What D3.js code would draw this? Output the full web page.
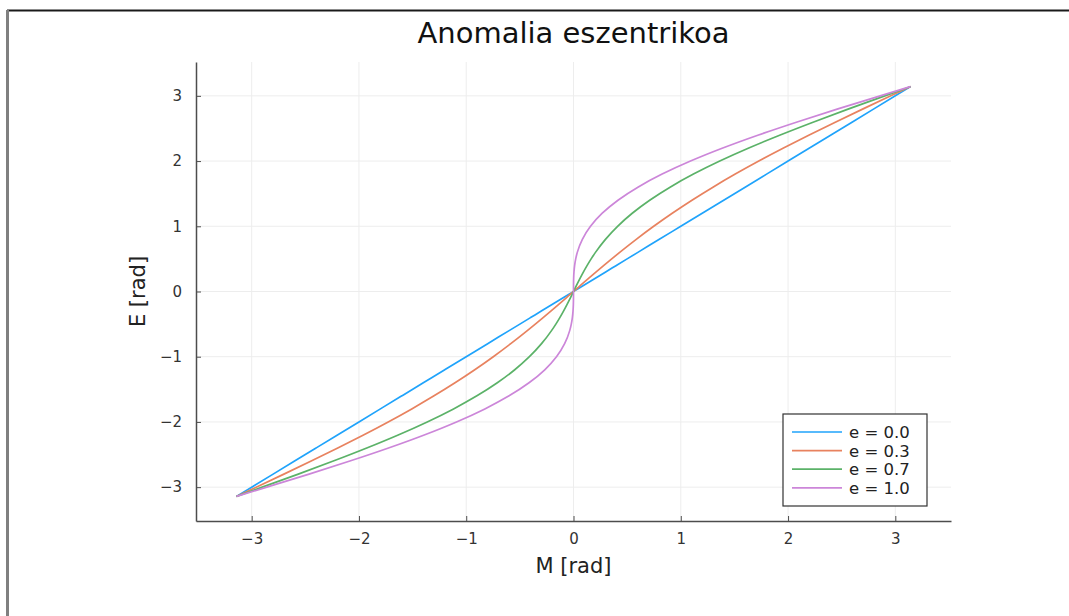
<!DOCTYPE html>
<html>
<head>
<meta charset="utf-8">
<script src="https://cdn.jsdelivr.net/npm/d3@7"></script>
<style>
body{margin:0;background:#fff}
text{font-family:"DejaVu Sans",sans-serif}
</style>
</head>
<body>
<div id="chart"></div>
<script>
(function(){

// eccentric anomaly E (rad), shared by all series
var E_vals = [-3.1416,-3.0,-2.8,-2.6,-2.4,-2.2,-2.0,-1.8,-1.6,-1.4,-1.2,-1.0,-0.8,-0.6,-0.5,-0.4,-0.3,-0.2,-0.1,-0.05,0,
              0.05,0.1,0.2,0.3,0.4,0.5,0.6,0.8,1.0,1.2,1.4,1.6,1.8,2.0,2.2,2.4,2.6,2.8,3.0,3.1416]

// mean anomaly M (rad) for each eccentricity
var M_e00 = [-3.1416,-3.0,-2.8,-2.6,-2.4,-2.2,-2.0,-1.8,-1.6,-1.4,-1.2,-1.0,-0.8,-0.6,-0.5,-0.4,-0.3,-0.2,-0.1,-0.05,0,
             0.05,0.1,0.2,0.3,0.4,0.5,0.6,0.8,1.0,1.2,1.4,1.6,1.8,2.0,2.2,2.4,2.6,2.8,3.0,3.1416]
var M_e03 = [-3.1416,-2.9577,-2.6995,-2.4453,-2.1974,-1.9575,-1.7272,-1.5078,-1.3001,-1.1044,-0.9204,-0.7476,-0.5848,-0.4306,-0.3562,-0.2832,-0.2113,-0.1404,-0.0700,-0.0350,0,
             0.0350,0.0700,0.1404,0.2113,0.2832,0.3562,0.4306,0.5848,0.7476,0.9204,1.1044,1.3001,1.5078,1.7272,1.9575,2.1974,2.4453,2.6995,2.9577,3.1416]
var M_e07 = [-3.1416,-2.9012,-2.5655,-2.2391,-1.9272,-1.6341,-1.3635,-1.1183,-0.9003,-0.7102,-0.5476,-0.4110,-0.2979,-0.2048,-0.1644,-0.1274,-0.0931,-0.0609,-0.0301,-0.0150,0,
             0.0150,0.0301,0.0609,0.0931,0.1274,0.1644,0.2048,0.2979,0.4110,0.5476,0.7102,0.9003,1.1183,1.3635,1.6341,1.9272,2.2391,2.5655,2.9012,3.1416]
var M_e10 = [-3.1416,-2.8589,-2.4650,-2.0845,-1.7245,-1.3915,-1.0907,-0.8262,-0.6004,-0.4146,-0.2680,-0.1585,-0.0826,-0.0354,-0.0206,-0.0106,-0.0045,-0.0013,-0.0002,-0.00002,0,
             0.00002,0.0002,0.0013,0.0045,0.0106,0.0206,0.0354,0.0826,0.1585,0.2680,0.4146,0.6004,0.8262,1.0907,1.3915,1.7245,2.0845,2.4650,2.8589,3.1416]

var series_names = ["e = 0.0","e = 0.3","e = 0.7","e = 1.0"]
var series_M = [M_e00,M_e03,M_e07,M_e10]
var series_colors = ["#1fa3fb","#e8825f","#5bb268","#cc86d9"]

var x_ticks = [-3,-2,-1,0,1,2,3]
var y_ticks = [-3,-2,-1,0,1,2,3]
var x_domain = [-3.519,3.519]
var y_domain = [-3.519,3.519]

var W = 1069, H = 616
var margin = {top: 62, right: 118, bottom: 95, left: 196},
    width = W - margin.left - margin.right,
    height = H - margin.top - margin.bottom

var svg = d3.select("#chart").append("svg")
	.attr("width",W)
	.attr("height",H)

// frame of the screenshot
svg.append("line").attr("x1",7).attr("x2",W).attr("y1",10.5).attr("y2",10.5)
	.style("stroke","#1a1a1a").style("stroke-width",2)
svg.append("line").attr("x1",7.5).attr("x2",7.5).attr("y1",10).attr("y2",H)
	.style("stroke","#808080").style("stroke-width",3)

var plot = svg.append("g")
	.attr("transform","translate("+margin.left+","+margin.top+")")

var x = d3.scaleLinear().domain(x_domain).range([0,width])
var y = d3.scaleLinear().domain(y_domain).range([height,0])

// grid
plot.selectAll(".xgrid").data(x_ticks).enter().append("line")
	.attr("class","xgrid")
	.attr("x1",function(d){return x(d)}).attr("x2",function(d){return x(d)})
	.attr("y1",0).attr("y2",height)
	.style("stroke","#ededed").style("stroke-width",1)
plot.selectAll(".ygrid").data(y_ticks).enter().append("line")
	.attr("class","ygrid")
	.attr("y1",function(d){return y(d)}).attr("y2",function(d){return y(d)})
	.attr("x1",0).attr("x2",width)
	.style("stroke","#ededed").style("stroke-width",1)

// curves
var line = d3.line()
	.x(function(d){return x(d[0])})
	.y(function(d){return y(d[1])})
	.curve(d3.curveMonotoneY)

series_M.forEach(function(M,i){
	var pts = M.map(function(m,j){return [m,E_vals[j]]})
	plot.append("path").datum(pts)
		.attr("d",line)
		.style("fill","none")
		.style("stroke",series_colors[i])
		.style("stroke-width",1.7)
})

// axes
var fmt = function(d){return d<0 ? "\u2212"+Math.abs(d) : ""+d}

var xaxis = plot.append("g")
	.attr("transform","translate(0,"+height+")")
	.call(d3.axisBottom(x).tickValues(x_ticks).tickFormat(fmt).tickSizeInner(-5).tickSizeOuter(0).tickPadding(12))
var yaxis = plot.append("g")
	.call(d3.axisLeft(y).tickValues(y_ticks).tickFormat(fmt).tickSizeInner(-5).tickSizeOuter(0).tickPadding(14))

;[xaxis,yaxis].forEach(function(a){
	a.select(".domain").style("stroke","#4d4d4d").style("stroke-width",1.5)
	a.selectAll(".tick line").style("stroke","#4d4d4d").style("stroke-width",1)
	a.selectAll(".tick text").style("font-size","15px").style("fill","#333")
		.style("font-family","'DejaVu Sans',sans-serif")
})

// titles
svg.append("text").text("Anomalia eszentrikoa")
	.attr("x",margin.left+width/2).attr("y",43)
	.style("text-anchor","middle").style("font-size","29px").style("fill","#111")

svg.append("text").text("M [rad]")
	.attr("x",margin.left+width/2).attr("y",573)
	.style("text-anchor","middle").style("font-size","21px").style("fill","#222")

svg.append("text").text("E [rad]")
	.attr("transform","translate(145,"+(margin.top+height/2)+") rotate(-90)")
	.style("text-anchor","middle").style("font-size","21px").style("fill","#222")

// legend
var lx = 783 - margin.left, ly = 414 - margin.top
var leg = plot.append("g").attr("transform","translate("+lx+","+ly+")")
leg.append("rect").attr("width",144).attr("height",92)
	.style("fill","#fff").style("stroke","#333").style("stroke-width",1.2)

var items = leg.selectAll(".legitem").data(series_names).enter().append("g")
	.attr("class","legitem")
	.attr("transform",function(d,i){return "translate(0,"+(18+i*18.6)+")"})
items.append("line").attr("x1",9).attr("x2",59).attr("y1",0).attr("y2",0)
	.style("stroke",function(d,i){return series_colors[i]}).style("stroke-width",1.7)
items.append("text").text(function(d){return d})
	.attr("x",66).attr("y",6)
	.style("font-size","16.5px").style("fill","#222")

})()
</script>
</body>
</html>
